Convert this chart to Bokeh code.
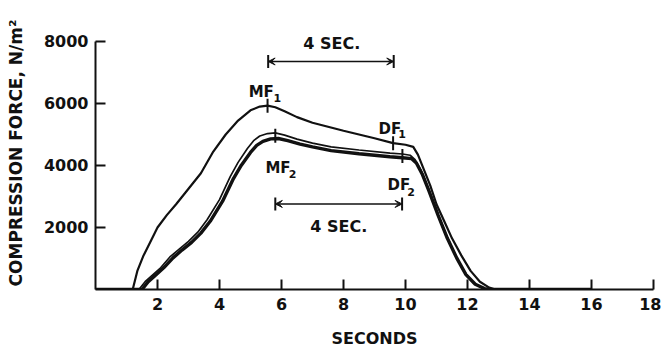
import numpy as np
from bokeh.plotting import figure
from bokeh.models import Range1d, FixedTicker, Arrow, VeeHead, Label
from bokeh.embed import file_html
from bokeh.resources import INLINE

FONT = "DejaVu Sans"
INK = "#111111"

# ---- data (seconds, N/m^2) ----
t_a = [0, 1.2, 1.35, 1.55, 1.8, 2.0, 2.3, 2.6, 3.0, 3.4, 3.8, 4.2, 4.6, 5.0, 5.3, 5.55,
       5.8, 6.1, 6.5, 7.0, 7.5, 8.0, 8.5, 9.0, 9.6, 10.0, 10.25, 10.4, 10.6, 10.8, 11.0,
       11.25, 11.5, 11.8, 12.1, 12.4, 12.7, 12.9, 16.0]
f_a = [0, 0, 600, 1100, 1600, 2000, 2400, 2750, 3250, 3750, 4450, 5000, 5450, 5780, 5900, 5930,
       5880, 5750, 5560, 5380, 5250, 5120, 5000, 4880, 4720, 4670, 4600, 4350, 3850, 3350, 2750,
       2200, 1650, 1100, 600, 250, 60, 0, 0]

t_b = [0, 1.4, 1.6, 1.8, 2.1, 2.4, 2.7, 3.0, 3.3, 3.6, 4.0, 4.35, 4.6, 4.9, 5.1, 5.3, 5.55,
       5.8, 6.1, 6.5, 7.0, 7.6, 8.5, 9.5, 9.9, 10.15, 10.3, 10.5, 10.7, 11.0, 11.3, 11.6,
       11.9, 12.2, 12.5, 12.7, 16.0]
f_b = [0, 0, 250, 430, 700, 1050, 1300, 1550, 1850, 2250, 2900, 3650, 4100, 4550, 4800, 4950, 5030,
       5050, 4980, 4850, 4720, 4600, 4500, 4400, 4370, 4330, 4200, 3850, 3350, 2550, 1800, 1120,
       560, 210, 40, 0, 0]

t_c = [0, 1.5, 1.7, 1.9, 2.2, 2.5, 2.8, 3.1, 3.4, 3.7, 4.1, 4.45, 4.7, 5.0, 5.2, 5.4, 5.65,
       5.9, 6.2, 6.6, 7.0, 7.6, 8.5, 9.5, 9.9, 10.2, 10.35, 10.55, 10.75, 11.05, 11.35, 11.65,
       11.95, 12.25, 12.55, 12.8, 16.0]
f_c = [0, 0, 250, 430, 700, 1020, 1280, 1520, 1820, 2200, 2850, 3580, 4000, 4420, 4650, 4780, 4860,
       4870, 4800, 4690, 4600, 4480, 4380, 4280, 4250, 4220, 4080, 3700, 3200, 2400, 1650, 1020,
       480, 170, 30, 0, 0]

x_ticks = [2, 4, 6, 8, 10, 12, 14, 16, 18]
y_ticks = [2000, 4000, 6000, 8000]
y_axis_max = 8000
y_view_max = 8806  # headroom above the axis for the "4 SEC." note

# MF / DF tick marks on the curves
mark_t = [5.55, 9.6, 5.8, 9.9]
mark_f = [5930, 4720, 4960, 4310]

# "4 SEC." interval arrows: (start, end, level)
arrow_top = (5.57, 9.62, 7355)
arrow_bot = (5.8, 9.89, 2760)
sec_text = "4 SEC."
sec_top_pos = (7.62, 7950)
sec_bot_pos = (7.85, 2030)

# labels: (main text, sub text, main x, main y, sub x, sub y)
labels = [
    ("MF", "1", 4.94, 6355, 5.74, 6190),
    ("DF", "1", 9.13, 5190, 9.77, 5030),
    ("MF", "2", 5.48, 3935, 6.23, 3740),
    ("DF", "2", 9.42, 3355, 10.06, 3130),
]

p = figure(width=661, height=352, x_range=Range1d(0, 18), y_range=Range1d(0, y_view_max),
           output_backend="svg", toolbar_location=None,
           min_border_left=95, min_border_right=8, min_border_top=16, min_border_bottom=63)
p.grid.visible = False
p.outline_line_color = None
p.background_fill_color = "white"
p.border_fill_color = "white"

for ax in (p.xaxis[0], p.yaxis[0]):
    ax.axis_line_width = 2
    ax.axis_line_color = INK
    ax.major_tick_line_width = 2
    ax.major_tick_line_color = INK
    ax.major_tick_in = 10
    ax.major_tick_out = 0
    ax.minor_tick_line_color = None
    ax.major_label_text_font = FONT
    ax.major_label_text_font_size = "16px"
    ax.major_label_text_font_style = "bold"
    ax.major_label_text_color = INK
    ax.axis_label_text_font = FONT
    ax.axis_label_text_font_style = "bold"
    ax.axis_label_text_color = INK

p.yaxis.bounds = (0, y_axis_max)
p.xaxis.ticker = FixedTicker(ticks=x_ticks)
p.yaxis.ticker = FixedTicker(ticks=y_ticks)
p.xaxis.axis_label = "SECONDS"
p.yaxis.axis_label = "COMPRESSION FORCE, N/m²"
p.xaxis.axis_label_text_font_size = "16px"
p.yaxis.axis_label_text_font_size = "17px"
p.xaxis.major_label_standoff = 8
p.xaxis.axis_label_standoff = 16
p.yaxis.major_label_standoff = 7
p.yaxis.axis_label_standoff = 15

p.line(t_c, f_c, line_width=3.4, line_color=INK)
p.line(t_b, f_b, line_width=1.7, line_color=INK)
p.line(t_a, f_a, line_width=2.2, line_color=INK)

p.scatter(mark_t, mark_f, marker="dash", angle=np.pi / 2, size=14,
          line_width=2, line_color=INK)

for (x0, x1, lvl) in (arrow_top, arrow_bot):
    p.add_layout(Arrow(x_start=x0, y_start=lvl, x_end=x1, y_end=lvl,
                       start=VeeHead(size=7, line_color=INK, fill_color=INK, line_width=1),
                       end=VeeHead(size=7, line_color=INK, fill_color=INK, line_width=1),
                       line_width=1.5, line_color=INK))
    p.scatter([x0, x1], [lvl, lvl], marker="dash", angle=np.pi / 2, size=13,
              line_width=2, line_color=INK)

for (x, y) in (sec_top_pos, sec_bot_pos):
    p.add_layout(Label(x=x, y=y, text=sec_text, text_font=FONT, text_font_size="16px",
                       text_font_style="bold", text_color=INK, text_align="center",
                       text_baseline="middle"))

for (m, s, mx, my, sx, sy) in labels:
    p.add_layout(Label(x=mx, y=my, text=m, text_font=FONT, text_font_size="15px",
                       text_font_style="bold", text_color=INK, text_align="left",
                       text_baseline="alphabetic"))
    p.add_layout(Label(x=sx, y=sy, text=s, text_font=FONT, text_font_size="11px",
                       text_font_style="bold", text_color=INK, text_align="left",
                       text_baseline="alphabetic"))

open("out.html", "w").write(file_html(p, INLINE))
